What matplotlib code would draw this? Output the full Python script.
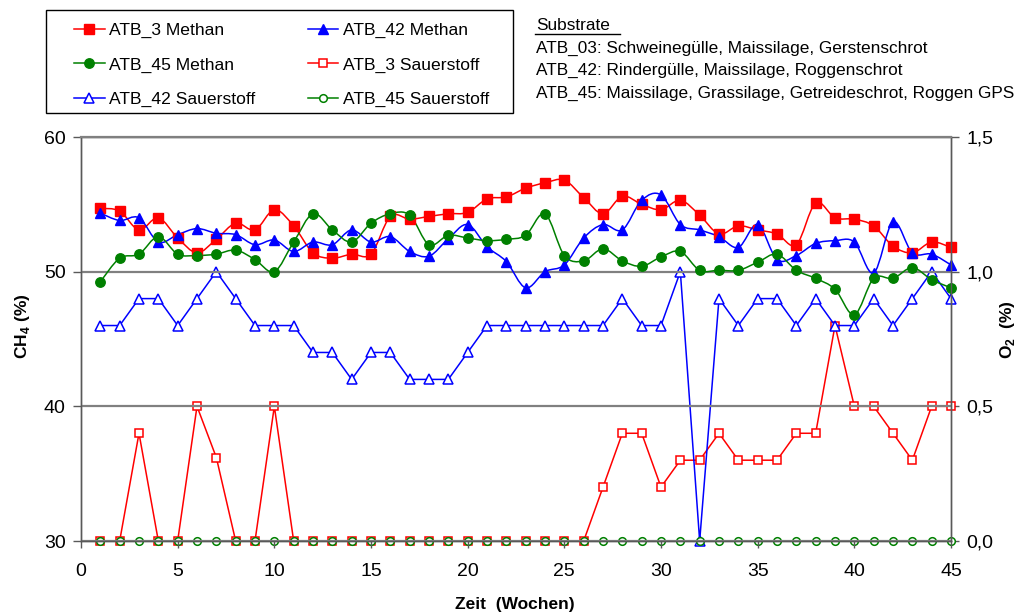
import matplotlib
matplotlib.use("Agg")
import matplotlib.pyplot as plt
from matplotlib.path import Path
from matplotlib.patches import PathPatch, Rectangle
from matplotlib.lines import Line2D
from matplotlib.ticker import FixedLocator, FuncFormatter

plt.rcParams["font.family"] = ["Liberation Sans", "DejaVu Sans"]
plt.rcParams["mathtext.fontset"] = "custom"
plt.rcParams["mathtext.rm"] = "Liberation Sans"
plt.rcParams["mathtext.bf"] = "Liberation Sans:bold"

# ---- data -------------------------------------------------------------
weeks = list(range(1, 46))

atb3_ch4 = [54.7, 54.5, 53.1, 54.0, 52.5, 51.4, 52.4, 53.6, 53.1, 54.6,
            53.4, 51.4, 51.0, 51.3, 51.3, 54.1, 53.9, 54.1, 54.3, 54.4,
            55.4, 55.55, 56.2, 56.6, 56.8, 55.5, 54.3, 55.6, 55.0, 54.6,
            55.3, 54.2, 52.8, 53.4, 53.1, 52.8, 52.0, 55.1, 54.0, 53.9,
            53.4, 51.9, 51.4, 52.2, 51.8]
atb42_ch4 = [54.35, 53.8, 54.0, 52.2, 52.75, 53.2, 52.85, 52.75, 52.0, 52.35,
             51.5, 52.2, 52.0, 53.1, 52.2, 52.6, 51.5, 51.15, 52.45, 53.5,
             51.85, 50.75, 48.8, 50.0, 50.5, 52.5, 53.5, 53.1, 55.3, 55.7,
             53.5, 53.1, 52.6, 51.8, 53.5, 50.9, 51.2, 52.1, 52.3, 52.2,
             49.9, 53.7, 51.4, 51.3, 50.5]
atb45_ch4 = [49.25, 51.0, 51.3, 52.6, 51.3, 51.2, 51.3, 51.6, 50.9, 50.0,
             52.2, 54.3, 53.1, 52.2, 53.6, 54.3, 54.2, 52.0, 52.7, 52.5,
             52.3, 52.4, 52.7, 54.3, 51.2, 50.8, 51.7, 50.8, 50.4, 51.1,
             51.5, 50.1, 50.1, 50.1, 50.7, 51.3, 50.1, 49.5, 48.7, 46.8,
             49.5, 49.5, 50.3, 49.4, 48.8]

atb3_o2 = [0.0, 0.0, 0.4, 0.0, 0.0, 0.5, 0.31, 0.0, 0.0, 0.5,
           0.0, 0.0, 0.0, 0.0, 0.0, 0.0, 0.0, 0.0, 0.0, 0.0,
           0.0, 0.0, 0.0, 0.0, 0.0, 0.0, 0.2, 0.4, 0.4, 0.2,
           0.3, 0.3, 0.4, 0.3, 0.3, 0.3, 0.4, 0.4, 0.8, 0.5,
           0.5, 0.4, 0.3, 0.5, 0.5]
atb42_o2 = [0.8, 0.8, 0.9, 0.9, 0.8, 0.9, 1.0, 0.9, 0.8, 0.8,
            0.8, 0.7, 0.7, 0.6, 0.7, 0.7, 0.6, 0.6, 0.6, 0.7,
            0.8, 0.8, 0.8, 0.8, 0.8, 0.8, 0.8, 0.9, 0.8, 0.8,
            1.0, 0.0, 0.9, 0.8, 0.9, 0.9, 0.8, 0.9, 0.8, 0.8,
            0.9, 0.8, 0.9, 1.0, 0.9]
atb45_o2 = [0.0, 0.0, 0.0, 0.0, 0.0, 0.0, 0.0, 0.0, 0.0, 0.0,
            0.0, 0.0, 0.0, 0.0, 0.0, 0.0, 0.0, 0.0, 0.0, 0.0,
            0.0, 0.0, 0.0, 0.0, 0.0, 0.0, 0.0, 0.0, 0.0, 0.0,
            0.0, 0.0, 0.0, 0.0, 0.0, 0.0, 0.0, 0.0, 0.0, 0.0,
            0.0, 0.0, 0.0, 0.0, 0.0]

x_ticks = [0, 5, 10, 15, 20, 25, 30, 35, 40, 45]
ch4_ticks = [30, 40, 50, 60]
o2_ticks = [0.0, 0.5, 1.0, 1.5]

substrate_lines = [
    "ATB_03: Schweinegülle, Maissilage, Gerstenschrot",
    "ATB_42: Rindergülle, Maissilage, Roggenschrot",
    "ATB_45: Maissilage, Grassilage, Getreideschrot, Roggen GPS",
]

RED, BLUE, GREEN = "#ff0000", "#0000ff", "#008000"
W, H = 1020, 616


def smooth_path(xs, ys):
    """Cubic Bezier through the points (Catmull-Rom style tangents)."""
    n = len(xs)
    verts = [(xs[0], ys[0])]
    codes = [Path.MOVETO]
    for i in range(n - 1):
        xp, yp = (xs[i - 1], ys[i - 1]) if i > 0 else (xs[i], ys[i])
        xn, yn = (xs[i + 2], ys[i + 2]) if i + 2 < n else (xs[i + 1], ys[i + 1])
        c1 = (xs[i] + (xs[i + 1] - xp) / 6.0, ys[i] + (ys[i + 1] - yp) / 6.0)
        c2 = (xs[i + 1] - (xn - xs[i]) / 6.0, ys[i + 1] - (yn - ys[i]) / 6.0)
        verts += [c1, c2, (xs[i + 1], ys[i + 1])]
        codes += [Path.CURVE4] * 3
    return Path(verts, codes)


fig = plt.figure(figsize=(W / 100, H / 100), dpi=100)
ax = fig.add_axes([81 / W, 1 - 541 / H, (951 - 81) / W, (541 - 137) / H])
ax2 = ax.twinx()
ax.set_zorder(ax2.get_zorder() + 1)
ax.patch.set_visible(False)

# oxygen series on the secondary axis (straight segments)
o2_styles = [
    (atb3_o2, RED, "s", 6.2, "ATB_3 Sauerstoff"),
    (atb42_o2, BLUE, "^", 7.2, "ATB_42 Sauerstoff"),
    (atb45_o2, GREEN, "o", 5.5, "ATB_45 Sauerstoff"),
]
handles = {}
for vals, col, mk, ms, lab in o2_styles:
    ax2.plot(weeks, vals, color=col, lw=1.1, marker=mk, ms=ms,
             mfc="white", mec=col, mew=1.1, clip_on=False)
    handles[lab] = Line2D([], [], color=col, lw=1.1, marker=mk, ms=ms,
                          mfc="white", mec=col, mew=1.1)

# methane series on the primary axis (smoothed lines)
ch4_styles = [
    (atb3_ch4, RED, "s", 7.0, "ATB_3 Methan"),
    (atb42_ch4, BLUE, "^", 7.5, "ATB_42 Methan"),
    (atb45_ch4, GREEN, "o", 6.8, "ATB_45 Methan"),
]
for vals, col, mk, ms, lab in ch4_styles:
    ax.add_patch(PathPatch(smooth_path(weeks, vals), fill=False,
                           edgecolor=col, lw=1.1, clip_on=False))
    ax.plot(weeks, vals, linestyle="none", marker=mk, ms=ms,
            mfc=col, mec=col, clip_on=False)
    handles[lab] = Line2D([], [], color=col, lw=1.1, marker=mk, ms=ms,
                          mfc=col, mec=col)

# axes, ticks, grid
ax.set_xlim(0, 45)
ax.set_ylim(30, 60)
ax2.set_ylim(0, 1.5)
ax.xaxis.set_major_locator(FixedLocator(x_ticks))
ax.yaxis.set_major_locator(FixedLocator(ch4_ticks))
ax2.yaxis.set_major_locator(FixedLocator(o2_ticks))
ax2.yaxis.set_major_formatter(FuncFormatter(lambda v, p: f"{v:.1f}".replace(".", ",")))

spine_col = "#595959"
for a in (ax, ax2):
    for s in a.spines.values():
        s.set_color(spine_col)
        s.set_linewidth(1.0)
ax.spines["top"].set_color("#808080")
ax.spines["top"].set_linewidth(1.6)
ax.yaxis.grid(True, color="#808080", lw=1.6)
ax.set_axisbelow(True)

ax.tick_params(axis="y", direction="out", length=6, width=1, color=spine_col,
               labelsize=14, pad=5)
ax.tick_params(axis="x", direction="out", length=5, width=1, color=spine_col,
               labelsize=14, pad=11)
ax2.tick_params(axis="y", direction="out", length=6, width=1, color=spine_col,
                labelsize=14, pad=5)

fig.text(23 / W, 1 - 326 / H, r"CH$_\mathbf{4}$ (%)", rotation=90,
         ha="center", va="center", fontsize=12.5, fontweight="bold")
fig.text(1008 / W, 1 - 330 / H, r"O$_\mathbf{2}$  (%)", rotation=90,
         ha="center", va="center", fontsize=12.5, fontweight="bold")
fig.text(515 / W, 1 - 605 / H, "Zeit  (Wochen)", ha="center", va="center",
         fontsize=12.5, fontweight="bold")

# legend with a plain rectangular frame
order = ["ATB_3 Methan", "ATB_45 Methan", "ATB_42 Sauerstoff",
         "ATB_42 Methan", "ATB_3 Sauerstoff", "ATB_45 Sauerstoff"]
fig.legend([handles[k] for k in order], order, ncol=2, frameon=False,
           loc="upper left", mode="expand",
           bbox_to_anchor=(74 / W, 1 - 23 / H, (489 - 74) / W, 0.0),
           borderpad=0, borderaxespad=0, fontsize=12.6,
           handlelength=1.75, handletextpad=0.25, labelspacing=1.08,
           numpoints=1)
fig.patches.append(Rectangle((46 / W, 1 - 113 / H), 467 / W, 103 / H,
                             transform=fig.transFigure, fill=False,
                             edgecolor="black", lw=1.0))

# substrate notes
fig.text(536 / W, 1 - 25 / H, "Substrate", ha="left", va="center", fontsize=12.4)
fig.add_artist(Line2D([535 / W, 620 / W], [1 - 34 / H, 1 - 34 / H],
                      transform=fig.transFigure, color="black", lw=1.0))
for i, line in enumerate(substrate_lines):
    fig.text(536 / W, 1 - (48 + 22.5 * i) / H, line, ha="left", va="center",
             fontsize=12.4)

fig.savefig("out.png", dpi=100)
